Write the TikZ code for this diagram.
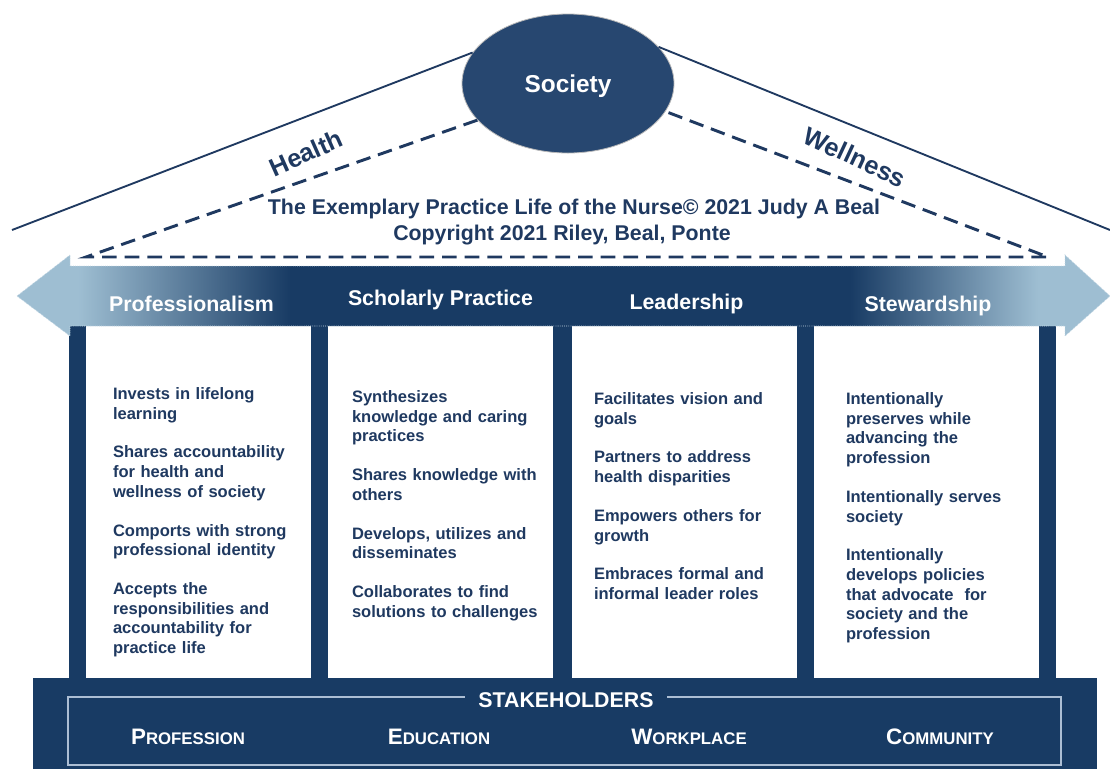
\documentclass[tikz,border=0pt]{standalone}
\usepackage{fontspec}
\setmainfont{Liberation Sans}
\usetikzlibrary{shapes.geometric,calc}

\definecolor{navy}{RGB}{24,59,100}
\definecolor{societyblue}{RGB}{39,71,112}
\definecolor{inknavy}{RGB}{31,57,96}
\definecolor{paleblue}{RGB}{158,190,210}
\definecolor{framegrey}{RGB}{172,190,212}

% pale ends, dark middle for the double arrow
\pgfdeclarehorizontalshading{bandshade}{100bp}{color(0bp)=(paleblue); color(27.8bp)=(paleblue); color(37.5bp)=(navy); color(63.1bp)=(navy); color(71.7bp)=(paleblue); color(100bp)=(paleblue)}

\newcommand{\fakesc}[2]{{\fontsize{16.8}{18}\selectfont #1}{\fontsize{12.6}{14}\selectfont #2}}

\tikzset{every picture/.style={line width=0.75pt}}
\tikzset{
  roof/.style={draw=inknavy, line width=1.4pt},
  dashroof/.style={draw=inknavy, line width=2.2pt, dash pattern=on 11pt off 6pt},
  pillar/.style={fill=white, minimum width=168.75pt, minimum height=264pt, inner sep=0pt},
  colhead/.style={text=white, font=\fontsize{16}{19}\selectfont\bfseries, inner sep=0pt, anchor=base},
  item/.style={text=inknavy, font=\fontsize{12.4}{14.8}\selectfont\bfseries, text width=165pt, align=left, inner sep=0pt, anchor=base west},
  roofword/.style={text=inknavy, font=\fontsize{19}{22}\selectfont\bfseries, inner sep=0pt},
  titleline/.style={text=inknavy, font=\fontsize{16}{19}\selectfont\bfseries, inner sep=0pt, anchor=base},
  stake/.style={text=white, font=\bfseries, inner sep=0pt, anchor=base},
}

\begin{document}
\begin{tikzpicture}[x=0.75pt,y=0.75pt,yscale=-1,xscale=1]
\useasboundingbox (0,0) rectangle (1110,769);

% Society at the top of the roof
\node[ellipse, fill=societyblue, draw=gray!55, line width=0.6pt, minimum width=159pt, minimum height=104.25pt, inner sep=0pt, text=white, text depth=0pt, font=\fontsize{18.3}{22}\selectfont\bfseries] (society) at (568,83.5) {Society};

% Roof lines
\coordinate (eaveL) at (12,230);
\coordinate (eaveR) at (1110,230);
\draw[roof] (eaveL) -- (society.162);
\draw[roof] (society.22) -- (eaveR);

% Dashed inner roof
\coordinate (dashL) at (86,257);
\coordinate (dashR) at (1048,257);
\draw[dashroof] (society.202) -- (dashL) -- (dashR) -- (society.344);

% Text Node
\node[roofword, rotate=24] (health) at (306,153) {Health};
\node[roofword, rotate=-25] (wellness) at (855,157) {Wellness};
\node[titleline] (title) at (574,214) {The Exemplary Practice Life of the Nurse© 2021 Judy A Beal};
\node[titleline] (copyright) at (562,240) {Copyright 2021 Riley, Beal, Ponte};

% Posts behind the columns
\fill[navy] (69,300) rectangle (1056,678);

% Column panels
\node[pillar] (box1) at (198.5,502) {};
\node[pillar] (box2) at (440.5,502) {};
\node[pillar] (box3) at (684.5,502) {};
\node[pillar] (box4) at (926.5,502) {};

% Double arrow band
\shadedraw[shading=bandshade, draw=paleblue!60!white, densely dotted, line width=0.6pt] (17,296) -- (70,255) -- (70,266) -- (1065,266) -- (1065,255) -- (1110,296) -- (1065,336) -- (1065,326) -- (70,326) -- (70,336) -- cycle;

% Column headings
\node[colhead] (head1) at (191.5,311) {Professionalism};
\node[colhead] (head2) at (440.5,305) {Scholarly Practice};
\node[colhead] (head3) at (686.5,309) {Leadership};
\node[colhead] (head4) at (928,311) {Stewardship};

% Column contents
\node[item] (list1) at ($(box1.north west)+(27,74)$) {Invests in lifelong\\learning\\[14.2pt]
Shares accountability\\for health and\\wellness of society\\[14.2pt]
Comports with strong\\professional identity\\[14.2pt]
Accepts the\\responsibilities and\\accountability for\\practice life};
\node[item] (list2) at ($(box2.north west)+(24,77)$) {Synthesizes\\knowledge and caring\\practices\\[14.2pt]
Shares knowledge with\\others\\[14.2pt]
Develops, utilizes and\\disseminates\\[14.2pt]
Collaborates to find\\solutions to challenges};
\node[item] (list3) at ($(box3.north west)+(22,79)$) {Facilitates vision and\\goals\\[14.2pt]
Partners to address\\health disparities\\[14.2pt]
Empowers others for\\growth\\[14.2pt]
Embraces formal and\\informal leader roles};
\node[item] (list4) at ($(box4.north west)+(32,79)$) {Intentionally\\preserves while\\advancing the\\profession\\[14.2pt]
Intentionally serves\\society\\[14.2pt]
Intentionally\\develops policies\\that advocate\ \ for\\society and the\\profession};

% Base with stakeholders
\fill[navy] (33,678) rectangle (1097,769);
\draw[framegrey, line width=1.5pt] (68,697) rectangle (1061,765);
\node[fill=navy, text=white, font=\fontsize{16}{19}\selectfont\bfseries, inner xsep=10pt, inner ysep=2pt] (stakeholders) at (566,700) {STAKEHOLDERS};
\node[stake] (profession) at (188,744) {\fakesc{P}{ROFESSION}};
\node[stake] (education) at (439,744) {\fakesc{E}{DUCATION}};
\node[stake] (workplace) at (689,744) {\fakesc{W}{ORKPLACE}};
\node[stake] (community) at (940,744) {\fakesc{C}{OMMUNITY}};
\end{tikzpicture}
\end{document}
